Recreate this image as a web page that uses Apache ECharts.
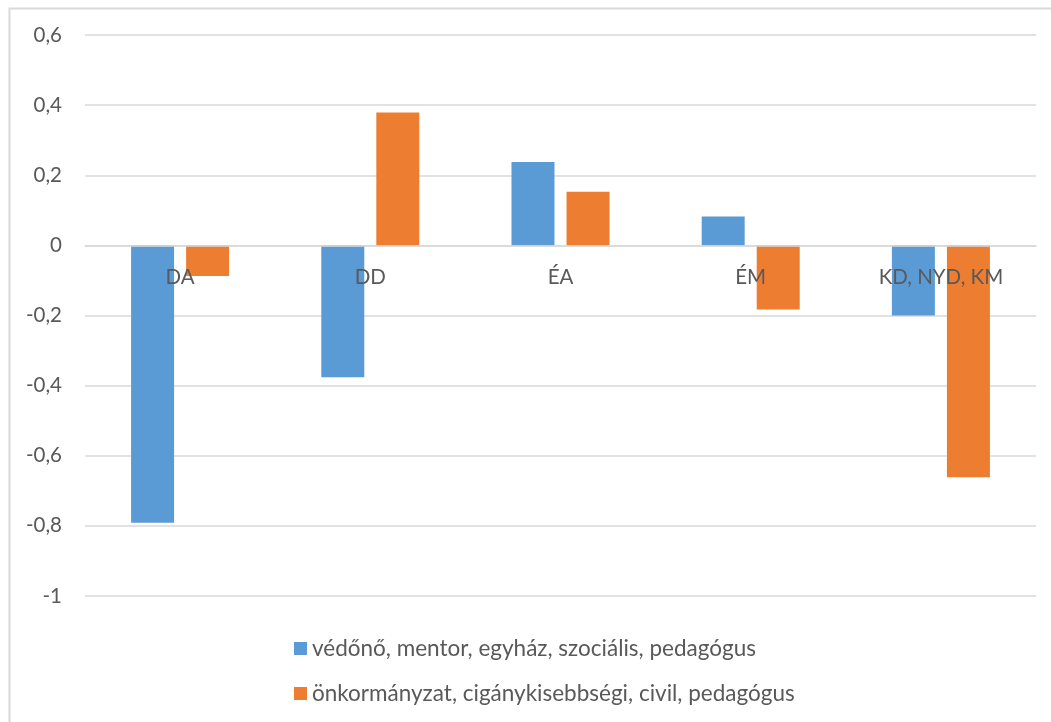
<!DOCTYPE html>
<html>
<head>
<meta charset="utf-8">
<script src="https://cdn.jsdelivr.net/npm/echarts@6/dist/echarts.min.js"></script>
<style>html,body{margin:0;padding:0;background:#fff;}#c{width:1051px;height:722px;}</style>
</head>
<body>
<div id="c"></div>
<script>
const categories = ['DA', 'DD', 'ÉA', 'ÉM', 'KD, NYD, KM'];
const seriesNames = ['védőnő, mentor, egyház, szociális, pedagógus', 'önkormányzat, cigánykisebbségi, civil, pedagógus'];
const seriesA = [-0.791, -0.376, 0.238, 0.082, -0.2];
const seriesB = [-0.087, 0.379, 0.153, -0.183, -0.661];
const yTicks = { min: -1, max: 0.6, interval: 0.2 };

const font = 'Lato, "Open Sans", sans-serif';
const gridTop = 35, gridBottom = 126, H = 722;
const plotH = H - gridTop - gridBottom;
// distance from bottom of plot to the zero line, from the axis scale
const zeroOffset = plotH * (0 - yTicks.min) / (yTicks.max - yTicks.min);

const chart = echarts.init(document.getElementById('c'));
chart.setOption({
  animation: false,
  backgroundColor: '#fff',
  graphic: [{
    type: 'rect', left: 7, top: 6, shape: { width: 1100, height: 800 },
    style: { fill: 'none', stroke: '#d9d9d9', lineWidth: 2 }, silent: true
  }],
  grid: { left: 85, right: 15, top: gridTop, bottom: gridBottom },
  legend: {
    orient: 'vertical', left: 289, top: 632, itemWidth: 13, itemHeight: 13, itemGap: 22,
    icon: 'rect',
    textStyle: { fontFamily: font, fontSize: 22.5, lineHeight: 22, color: '#595959' },
    data: seriesNames
  },
  xAxis: {
    type: 'category', data: categories, z: 5,
    offset: -zeroOffset,
    axisLine: { onZero: false, lineStyle: { color: '#d9d9d9', width: 1.5 } },
    axisTick: { show: false },
    axisLabel: { margin: 22, fontFamily: font, fontSize: 20.5, color: '#595959' }
  },
  yAxis: {
    type: 'value', min: yTicks.min, max: yTicks.max, interval: yTicks.interval,
    axisLine: { show: false }, axisTick: { show: false },
    splitLine: { lineStyle: { color: '#d9d9d9', width: 1.5 } },
    axisLabel: {
      margin: 23, fontFamily: font, fontSize: 20.5, color: '#595959',
      formatter: v => String(Math.round(v * 10) / 10).replace('.', ',')
    }
  },
  series: [
    { name: seriesNames[0], type: 'bar', data: seriesA, barWidth: 43, barGap: '28%',
      itemStyle: { color: '#5b9bd5' } },
    { name: seriesNames[1], type: 'bar', data: seriesB, barWidth: 43, barGap: '28%',
      itemStyle: { color: '#ed7d31' } }
  ]
});
</script>
</body>
</html>
